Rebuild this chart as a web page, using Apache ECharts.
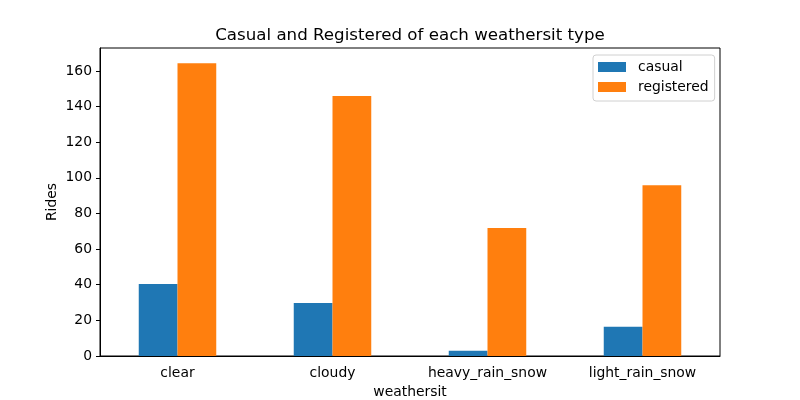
<!DOCTYPE html>
<html>
<head>
<meta charset="utf-8">
<script src="https://cdn.jsdelivr.net/npm/echarts@6/dist/echarts.min.js"></script>
<style>html,body{margin:0;padding:0;background:#fff}#c{width:800px;height:400px}</style>
</head>
<body>
<div id="c"></div>
<script>
const categories = ['clear', 'cloudy', 'heavy_rain_snow', 'light_rain_snow'];
const casual = [40.4, 29.8, 3.0, 16.4];
const registered = [164.4, 145.9, 71.8, 95.8];
const yTicks = [0, 20, 40, 60, 80, 100, 120, 140, 160];

const font = 'DejaVu Sans';
const chart = echarts.init(document.getElementById('c'), null, {renderer: 'canvas'});
chart.setOption({
  animation: false,
  backgroundColor: '#fff',
  textStyle: {fontFamily: font},
  title: {
    text: 'Casual and Registered of each weathersit type',
    left: 410, top: 27, textAlign: 'center', padding: 0,
    textStyle: {fontFamily: font, fontSize: 16.67, fontWeight: 'normal', color: '#000'}
  },
  legend: {
    orient: 'vertical', left: 593, top: 55,
    padding: [5, 6, 7, 5], itemGap: 6,
    itemWidth: 28, itemHeight: 10,
    borderColor: '#d0d0d0', borderWidth: 1, borderRadius: 3,
    backgroundColor: '#fff',
    icon: 'rect',
    textStyle: {fontFamily: font, fontSize: 13.9, color: '#000', padding: [0, 0, 0, 7], lineHeight: 14},
    data: ['casual', 'registered']
  },
  grid: {left: 100, right: 80, top: 48, bottom: 44, show: true, borderColor: '#000', borderWidth: 1,
         containLabel: false, outerBoundsMode: 'none'},
  xAxis: {
    type: 'category', data: categories, boundaryGap: true,
    name: 'weathersit', nameLocation: 'middle', nameGap: 29, nameMoveOverlap: false,
    nameTextStyle: {fontFamily: font, fontSize: 13.9, color: '#000'},
    axisLine: {lineStyle: {color: '#000', width: 1}},
    axisTick: {alignWithLabel: true, length: 4, lineStyle: {color: '#000'}},
    axisLabel: {fontFamily: font, fontSize: 13.9, color: '#000', margin: 10},
    splitLine: {show: false}
  },
  yAxis: {
    type: 'value', min: 0, max: 172.9, interval: 20,
    name: 'Rides', nameLocation: 'middle', nameGap: 41, nameRotate: 90, nameMoveOverlap: false,
    nameTextStyle: {fontFamily: font, fontSize: 13.9, color: '#000'},
    axisLine: {show: true, lineStyle: {color: '#000', width: 1}},
    axisTick: {show: true, length: 4, lineStyle: {color: '#000'}, customValues: yTicks},
    axisLabel: {fontFamily: font, fontSize: 13.9, color: '#000', margin: 8, customValues: yTicks},
    splitLine: {show: false}
  },
  series: [
    {name: 'casual', type: 'bar', data: casual, itemStyle: {color: '#1f77b4'}, barGap: '0%', barCategoryGap: '50%'},
    {name: 'registered', type: 'bar', data: registered, itemStyle: {color: '#ff7f0e'}, barGap: '0%', barCategoryGap: '50%'}
  ]
});
</script>
</body>
</html>
